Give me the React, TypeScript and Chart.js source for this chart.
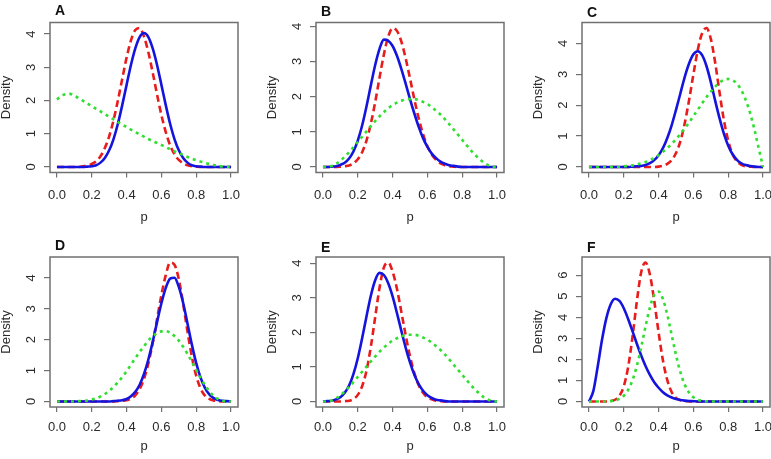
import React, { useEffect, useRef } from "react";
import { Chart, registerables } from "chart.js";

Chart.register(...registerables);

// ---------- data ----------
const P_GRID = [
  0, 0.025, 0.05, 0.075, 0.1, 0.125, 0.15, 0.175, 0.2, 0.225, 0.25, 0.275, 0.3, 0.325, 0.35, 0.375, 0.4,
  0.425, 0.45, 0.475, 0.5, 0.525, 0.55, 0.575, 0.6, 0.625, 0.65, 0.675, 0.7, 0.725, 0.75, 0.775, 0.8,
  0.825, 0.85, 0.875, 0.9, 0.925, 0.95, 0.975, 1,
];
const X_TICKS = [0, 0.2, 0.4, 0.6, 0.8, 1.0];
const Y_TICKS_4 = [0, 1, 2, 3, 4];
const Y_TICKS_6 = [0, 1, 2, 3, 4, 5, 6];

const A_BLUE = [0, 0, 0, 0, 0, 0, 0, 0.01, 0.02, 0.05, 0.13, 0.27, 0.5, 0.84, 1.3, 1.86, 2.47, 3.07, 3.57, 3.91, 4.03, 3.91, 3.57, 3.07, 2.47, 1.86, 1.3, 0.84, 0.5, 0.27, 0.13, 0.05, 0.02, 0.01, 0, 0, 0, 0, 0, 0, 0];
const A_RED = [0, 0, 0, 0, 0, 0, 0.02, 0.04, 0.09, 0.17, 0.32, 0.57, 0.92, 1.41, 2.0, 2.65, 3.29, 3.81, 4.12, 4.18, 3.92, 3.45, 2.84, 2.18, 1.56, 1.05, 0.65, 0.38, 0.21, 0.11, 0.05, 0.02, 0.01, 0, 0, 0, 0, 0, 0, 0, 0];
const A_GREEN = [2.03, 2.14, 2.19, 2.2, 2.14, 2.07, 1.99, 1.91, 1.83, 1.75, 1.67, 1.59, 1.51, 1.43, 1.35, 1.27, 1.2, 1.12, 1.05, 0.98, 0.91, 0.84, 0.78, 0.72, 0.66, 0.6, 0.53, 0.47, 0.41, 0.36, 0.3, 0.25, 0.2, 0.16, 0.12, 0.09, 0.06, 0.035, 0.015, 0.005, 0];

const B_BLUE = [0, 0, 0.01, 0.02, 0.06, 0.12, 0.24, 0.44, 0.75, 1.18, 1.72, 2.32, 2.9, 3.36, 3.62, 3.59, 3.44, 3.16, 2.79, 2.37, 1.93, 1.52, 1.14, 0.82, 0.57, 0.38, 0.25, 0.15, 0.09, 0.05, 0.03, 0.01, 0, 0, 0, 0, 0, 0, 0, 0, 0];
const B_RED = [0, 0, 0, 0, 0.01, 0.02, 0.04, 0.1, 0.22, 0.42, 0.75, 1.23, 1.84, 2.54, 3.2, 3.71, 3.95, 3.87, 3.57, 3.09, 2.52, 1.92, 1.38, 0.93, 0.59, 0.35, 0.2, 0.1, 0.05, 0.02, 0.01, 0, 0, 0, 0, 0, 0, 0, 0, 0, 0];
const B_GREEN = [0, 0, 0.03, 0.09, 0.18, 0.29, 0.42, 0.56, 0.71, 0.86, 1.01, 1.16, 1.3, 1.44, 1.56, 1.67, 1.76, 1.83, 1.88, 1.92, 1.93, 1.93, 1.9, 1.85, 1.79, 1.7, 1.6, 1.49, 1.36, 1.22, 1.07, 0.92, 0.77, 0.62, 0.47, 0.34, 0.22, 0.12, 0.05, 0.01, 0];

const C_BLUE = [0, 0, 0, 0, 0, 0, 0, 0, 0, 0, 0.01, 0.02, 0.03, 0.06, 0.12, 0.22, 0.38, 0.61, 0.94, 1.35, 1.85, 2.38, 2.91, 3.35, 3.65, 3.75, 3.62, 3.27, 2.75, 2.15, 1.58, 1.08, 0.69, 0.41, 0.23, 0.12, 0.06, 0.03, 0.01, 0, 0];
const C_RED = [0, 0, 0, 0, 0, 0, 0, 0, 0, 0, 0, 0, 0, 0, 0, 0, 0.01, 0.04, 0.1, 0.22, 0.45, 0.83, 1.41, 2.16, 3.0, 3.79, 4.33, 4.5, 4.15, 3.38, 2.42, 1.52, 0.85, 0.41, 0.18, 0.07, 0.02, 0.01, 0, 0, 0];
const C_GREEN = [0, 0, 0, 0, 0, 0, 0, 0, 0.02, 0.03, 0.05, 0.08, 0.12, 0.16, 0.22, 0.29, 0.38, 0.49, 0.61, 0.74, 0.9, 1.07, 1.25, 1.44, 1.65, 1.85, 2.06, 2.26, 2.44, 2.6, 2.73, 2.82, 2.85, 2.81, 2.7, 2.49, 2.18, 1.76, 1.23, 0.61, 0];

const D_BLUE = [0, 0, 0, 0, 0, 0, 0, 0, 0, 0, 0, 0, 0, 0.01, 0.02, 0.04, 0.08, 0.17, 0.31, 0.54, 0.89, 1.36, 1.93, 2.57, 3.18, 3.68, 3.98, 4.01, 3.71, 3.19, 2.52, 1.84, 1.24, 0.77, 0.44, 0.23, 0.11, 0.05, 0.02, 0.01, 0];
const D_RED = [0, 0, 0, 0, 0, 0, 0, 0, 0, 0, 0, 0, 0, 0, 0.01, 0.02, 0.04, 0.09, 0.2, 0.4, 0.73, 1.23, 1.89, 2.67, 3.45, 4.09, 4.5, 4.43, 3.96, 3.16, 2.26, 1.45, 0.83, 0.42, 0.19, 0.08, 0.03, 0.01, 0, 0, 0];
const D_GREEN = [0, 0, 0, 0, 0, 0.01, 0.02, 0.03, 0.06, 0.1, 0.16, 0.24, 0.34, 0.47, 0.62, 0.79, 0.98, 1.19, 1.4, 1.6, 1.79, 1.97, 2.11, 2.21, 2.27, 2.28, 2.23, 2.12, 1.97, 1.77, 1.54, 1.28, 1.02, 0.76, 0.53, 0.33, 0.18, 0.08, 0.02, 0, 0];

const E_BLUE = [0, 0.01, 0.02, 0.06, 0.12, 0.25, 0.46, 0.79, 1.25, 1.83, 2.46, 3.06, 3.51, 3.72, 3.66, 3.42, 3.04, 2.56, 2.05, 1.56, 1.13, 0.77, 0.5, 0.31, 0.18, 0.1, 0.05, 0.03, 0.01, 0, 0, 0, 0, 0, 0, 0, 0, 0, 0, 0, 0];
const E_RED = [0, 0, 0, 0, 0, 0.01, 0.02, 0.07, 0.19, 0.44, 0.89, 1.58, 2.44, 3.29, 3.88, 4.02, 3.76, 3.26, 2.6, 1.92, 1.31, 0.82, 0.47, 0.25, 0.12, 0.06, 0.02, 0.01, 0, 0, 0, 0, 0, 0, 0, 0, 0, 0, 0, 0, 0];
const E_GREEN = [0, 0, 0.03, 0.09, 0.18, 0.29, 0.42, 0.56, 0.71, 0.86, 1.01, 1.16, 1.3, 1.44, 1.56, 1.67, 1.76, 1.83, 1.88, 1.92, 1.93, 1.93, 1.9, 1.85, 1.79, 1.7, 1.6, 1.49, 1.36, 1.22, 1.07, 0.92, 0.77, 0.62, 0.47, 0.34, 0.22, 0.12, 0.05, 0.01, 0];

const F_BLUE = [0, 0.49, 1.65, 2.93, 3.96, 4.62, 4.88, 4.78, 4.43, 3.92, 3.34, 2.74, 2.18, 1.68, 1.26, 0.91, 0.65, 0.44, 0.29, 0.19, 0.12, 0.07, 0.04, 0.02, 0.01, 0, 0, 0, 0, 0, 0, 0, 0, 0, 0, 0, 0, 0, 0, 0, 0];
const F_RED = [0, 0, 0, 0, 0, 0.02, 0.08, 0.27, 0.72, 1.63, 3.06, 4.75, 6.14, 6.6, 6.03, 4.78, 3.28, 1.95, 1.01, 0.45, 0.17, 0.06, 0.02, 0, 0, 0, 0, 0, 0, 0, 0, 0, 0, 0, 0, 0, 0, 0, 0, 0, 0];
const F_GREEN = [0, 0, 0, 0, 0, 0.02, 0.05, 0.12, 0.27, 0.55, 1.01, 1.69, 2.58, 3.56, 4.46, 5.06, 5.22, 4.87, 4.12, 3.17, 2.21, 1.39, 0.8, 0.42, 0.2, 0.08, 0.03, 0.01, 0, 0, 0, 0, 0, 0, 0, 0, 0, 0, 0, 0, 0];

// ---------- styling / layout ----------
const FONT = '"Liberation Sans", Arial, sans-serif';
const BLUE = "rgb(20,20,222)";
const RED = "rgb(232,28,28)";
const GREEN = "rgb(48,222,48)";
const FRAME = "#707070";
const TEXT = "#2a2a2a";

type PanelCfg = {
  letter: string;
  blue: number[];
  red: number[];
  green: number[];
  yTicks: number[];
  col: number;
  row: number;
  letterGap: number;
};

const PANELS: PanelCfg[] = [
  { letter: "A", blue: A_BLUE, red: A_RED, green: A_GREEN, yTicks: Y_TICKS_4, col: 0, row: 0, letterGap: 8 },
  { letter: "B", blue: B_BLUE, red: B_RED, green: B_GREEN, yTicks: Y_TICKS_4, col: 1, row: 0, letterGap: 6.5 },
  { letter: "C", blue: C_BLUE, red: C_RED, green: C_GREEN, yTicks: Y_TICKS_4, col: 2, row: 0, letterGap: 6 },
  { letter: "D", blue: D_BLUE, red: D_RED, green: D_GREEN, yTicks: Y_TICKS_4, col: 0, row: 1, letterGap: 7.5 },
  { letter: "E", blue: E_BLUE, red: E_RED, green: E_GREEN, yTicks: Y_TICKS_4, col: 1, row: 1, letterGap: 5 },
  { letter: "F", blue: F_BLUE, red: F_RED, green: F_GREEN, yTicks: Y_TICKS_6, col: 2, row: 1, letterGap: 5 },
];

const COL_X = [0, 266, 532];
const ROWS = [
  { top: 0, height: 230, padTop: 22.5, xTickPad: 10 },
  { top: 234, height: 225, padTop: 23, xTickPad: 8 },
];
const CANVAS_W = 243;
const PAD_RIGHT = 5;
const AXIS_W = 50;
const BOX_H = 150;
const Y_LABEL_OFFSET = 19;

const framePlugin = {
  id: "frame",
  beforeDatasetsDraw(chart: any) {
    const { ctx, chartArea } = chart;
    const { left, top, right, bottom } = chartArea;
    ctx.save();
    ctx.strokeStyle = FRAME;
    ctx.lineWidth = 1.5;
    ctx.strokeRect(left, top, right - left, bottom - top);
    ctx.restore();
  },
  afterDraw(chart: any, _args: any, opts: any) {
    const { ctx, chartArea } = chart;
    const ys = chart.scales.y;
    ctx.save();
    // y tick labels rotated parallel to the axis (R style)
    ctx.font = `13px ${FONT}`;
    ctx.fillStyle = TEXT;
    ctx.textAlign = "center";
    ctx.textBaseline = "middle";
    for (const v of opts.yTicks as number[]) {
      const py = ys.getPixelForValue(v);
      ctx.save();
      ctx.translate(chartArea.left - Y_LABEL_OFFSET, py);
      ctx.rotate(-Math.PI / 2);
      ctx.fillText(String(v), 0, 0);
      ctx.restore();
    }
    // panel letter
    ctx.font = `bold 14px ${FONT}`;
    ctx.fillStyle = "#111";
    ctx.textBaseline = "alphabetic";
    ctx.textAlign = "left";
    ctx.fillText(opts.letter, chartArea.left + 5, chartArea.top - opts.gap);
    ctx.restore();
  },
};

function Panel({ cfg }: { cfg: PanelCfg }) {
  const ref = useRef<HTMLCanvasElement | null>(null);
  const row = ROWS[cfg.row];
  useEffect(() => {
    const canvas = ref.current;
    if (!canvas) return;
    const ymax = Math.max(...cfg.blue, ...cfg.red, ...cfg.green);
    const toPts = (arr: number[]) => P_GRID.map((p, i) => ({ x: p, y: arr[i] }));
    const common = {
      pointRadius: 0,
      borderWidth: 2.6,
      fill: false,
      cubicInterpolationMode: "monotone" as const,
      borderCapStyle: "butt" as const,
      borderJoinStyle: "round" as const,
    };
    const xAxisH = row.height - row.padTop - BOX_H;
    const tickFont = { family: FONT, size: 13 };
    const chart = new Chart(canvas, {
      type: "line",
      data: {
        datasets: [
          { ...common, label: "green", data: toPts(cfg.green), borderColor: GREEN, borderDash: [3, 4] },
          { ...common, label: "blue", data: toPts(cfg.blue), borderColor: BLUE },
          { ...common, label: "red", data: toPts(cfg.red), borderColor: RED, borderDash: [7, 4] },
        ],
      },
      options: {
        animation: false,
        responsive: false,
        events: [],
        layout: { padding: { left: 0, right: PAD_RIGHT, top: row.padTop, bottom: 0 } },
        plugins: {
          legend: { display: false },
          tooltip: { enabled: false },
          frame: { letter: cfg.letter, gap: cfg.letterGap, yTicks: cfg.yTicks },
        } as any,
        scales: {
          x: {
            type: "linear",
            min: -0.04,
            max: 1.04,
            afterBuildTicks: (s: any) => {
              s.ticks = X_TICKS.map((v) => ({ value: v }));
            },
            afterFit: (s: any) => {
              s.height = xAxisH;
              s.paddingLeft = 0;
              s.paddingRight = 0;
            },
            grid: { drawOnChartArea: false, drawTicks: true, tickLength: 5, color: FRAME, tickColor: FRAME, lineWidth: 1.2 },
            border: { display: false },
            ticks: {
              autoSkip: false,
              maxRotation: 0,
              minRotation: 0,
              padding: row.xTickPad,
              color: TEXT,
              font: tickFont,
              callback: (v: any) => Number(v).toFixed(1),
            },
            title: {
              display: true,
              text: "p",
              color: TEXT,
              font: { ...tickFont, lineHeight: 1 },
              padding: { top: 0, bottom: 6 },
            },
          },
          y: {
            type: "linear",
            min: -0.04 * ymax,
            max: 1.04 * ymax,
            afterBuildTicks: (s: any) => {
              s.ticks = cfg.yTicks.map((v) => ({ value: v }));
            },
            afterFit: (s: any) => {
              s.width = AXIS_W;
              s.paddingTop = 0;
              s.paddingBottom = 0;
            },
            grid: { drawOnChartArea: false, drawTicks: true, tickLength: 6, color: FRAME, tickColor: FRAME, lineWidth: 1.2 },
            border: { display: false },
            ticks: { display: false },
            title: {
              display: true,
              text: "Density",
              color: TEXT,
              font: { ...tickFont, lineHeight: 1 },
              padding: { top: 0, bottom: 0 },
            },
          },
        },
      },
      plugins: [framePlugin as any],
    });
    return () => chart.destroy();
  }, [cfg]);

  return (
    <canvas
      ref={ref}
      width={CANVAS_W}
      height={row.height}
      style={{
        position: "absolute",
        left: COL_X[cfg.col],
        top: row.top,
        width: CANVAS_W,
        height: row.height,
      }}
    />
  );
}

export default function App() {
  return (
    <div
      style={{
        position: "fixed",
        left: 0,
        top: 0,
        width: 771,
        height: 459,
        background: "#ffffff",
        overflow: "hidden",
      }}
    >
      {PANELS.map((p) => (
        <Panel key={p.letter} cfg={p} />
      ))}
    </div>
  );
}
